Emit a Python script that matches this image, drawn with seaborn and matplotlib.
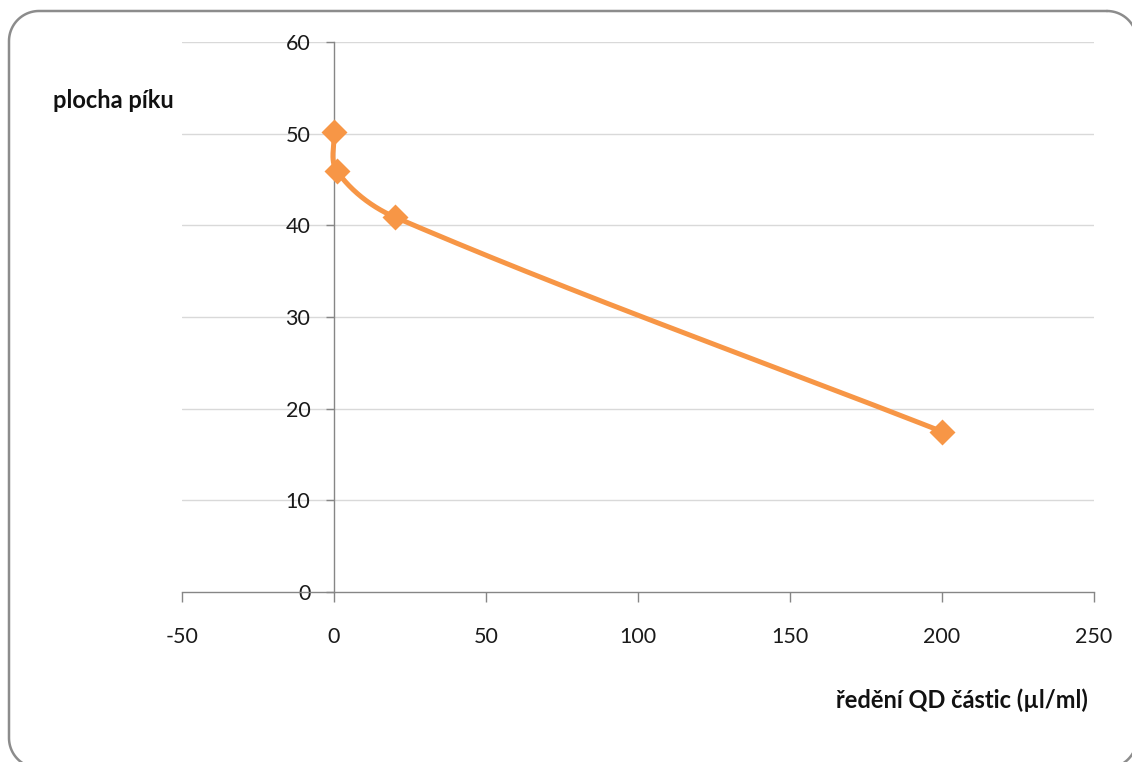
import numpy as np
import pandas as pd
import matplotlib
matplotlib.use("Agg")
import matplotlib.pyplot as plt
from matplotlib.lines import Line2D
from matplotlib.transforms import Affine2D
import seaborn as sns

# measured series
dilution = [0, 1, 20, 200]            # ředění QD částic (µl/ml)
peak_area = [50.2, 45.9, 40.9, 17.5]  # plocha píku

x_ticks = [-50, 0, 50, 100, 150, 200, 250]
y_ticks = [0, 10, 20, 30, 40, 50, 60]

sns.set_theme(style="white")
plt.rcParams["font.family"] = ["Lato", "DejaVu Sans"]

W, H = 1132, 762
fig = plt.figure(figsize=(W / 100, H / 100), dpi=100)
ax = fig.add_axes([182 / W, 1 - 592 / H, (1094 - 182) / W, (592 - 42) / H])

# smoothed line through the points: cubic Bezier segments whose tangents follow
# the neighbouring points, scaled by each segment's own length (no overshoot loops)
sx, sy = 3.04, 9.167
P = np.column_stack([np.array(dilution) * sx, np.array(peak_area) * sy])
n = len(P)
tang = np.zeros_like(P)
for i in range(n):
    d = P[min(i + 1, n - 1)] - P[max(i - 1, 0)]
    tang[i] = d / np.linalg.norm(d)
curve = []
for i in range(n - 1):
    p1, p2 = P[i], P[i + 1]
    L = np.linalg.norm(p2 - p1) / 3
    c1 = p1 + tang[i] * L
    c2 = p2 - tang[i + 1] * L
    t = np.linspace(0, 1, 80)[:, None]
    seg = ((1 - t) ** 3) * p1 + 3 * ((1 - t) ** 2) * t * c1 + 3 * (1 - t) * t ** 2 * c2 + t ** 3 * p2
    curve.append(seg if i == 0 else seg[1:])
curve = np.vstack(curve)
smooth = pd.DataFrame({"x": curve[:, 0] / sx, "y": curve[:, 1] / sy})

color = "#F79646"
sns.lineplot(data=smooth, x="x", y="y", sort=False, color=color, lw=3.6, ax=ax, zorder=3)
sns.scatterplot(x=dilution, y=peak_area, marker="D", s=175, color=color,
                edgecolor=color, linewidth=0, ax=ax, zorder=4)

ax.set_xlim(-50, 250)
ax.set_ylim(0, 60)
ax.set_xticks(x_ticks)
ax.set_yticks(y_ticks)
ax.set_xticklabels([str(v) for v in x_ticks])
ax.set_yticklabels([str(v) for v in y_ticks])

# horizontal gridlines only
for v in y_ticks[1:]:
    ax.axhline(v, color="#D9D9D9", lw=1.0, zorder=0)

ax.spines["left"].set_position(("data", 0))
ax.spines["top"].set_visible(False)
ax.spines["right"].set_visible(False)
for s in ("left", "bottom"):
    ax.spines[s].set_color("#868686")
    ax.spines[s].set_linewidth(1.0)
    ax.spines[s].set_zorder(1)

ax.tick_params(axis="y", direction="out", length=6, width=1, color="#868686",
               labelsize=15.5, labelcolor="#1a1a1a", pad=11, left=True)
ax.tick_params(axis="x", direction="out", length=7, width=1, color="#868686",
               labelsize=15.5, labelcolor="#1a1a1a", pad=18, bottom=True)
ax.set_xlabel("")
ax.set_ylabel("")

fig.text(53 / W, 1 - 101 / H, "plocha píku", fontsize=17, fontweight="bold",
         ha="left", va="center", color="#111111")
fig.text(1088 / W, 1 - 700 / H, "ředění QD částic (µl/ml)", fontsize=17,
         fontweight="bold", ha="right", va="center", color="#111111")

# rounded chart frame as a polyline in pixel units (origin top-left)
x0, y0, x1, y1, r = 9, 11, 1137, 768, 30
corners = [  # centre, start angle, end angle (screen coords, y down)
    ((x1 - r, y0 + r), -90, 0),
    ((x1 - r, y1 - r), 0, 90),
    ((x0 + r, y1 - r), 90, 180),
    ((x0 + r, y0 + r), 180, 270),
]
fx, fy = [], []
for (cx, cy), a0, a1 in corners:
    ang = np.radians(np.linspace(a0, a1, 24))
    fx.extend(cx + r * np.cos(ang))
    fy.extend(cy + r * np.sin(ang))
fx.append(fx[0])
fy.append(fy[0])
to_fig = Affine2D().scale(1 / W, -1 / H).translate(0, 1) + fig.transFigure
fig.add_artist(Line2D(fx, fy, transform=to_fig, color="#8C8C8C", lw=1.8))

fig.savefig("out.png", dpi=100, facecolor="white")
